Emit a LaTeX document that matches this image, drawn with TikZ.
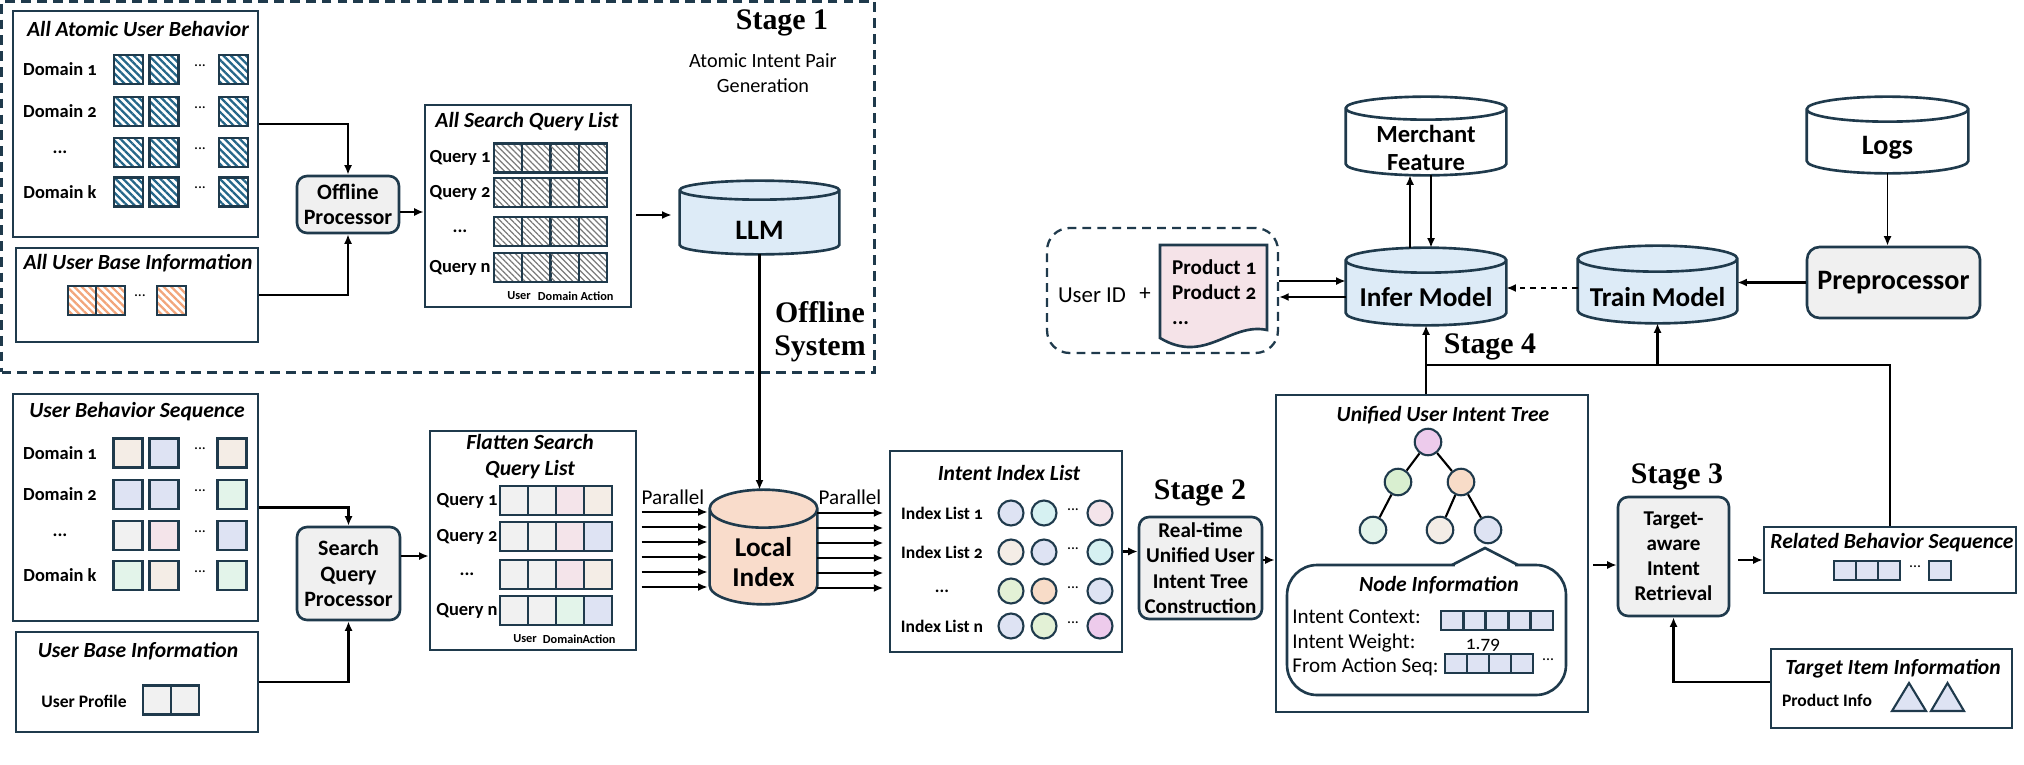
\documentclass[tikz,border=0pt]{standalone}
\usepackage{fontspec}
\setmainfont{Carlito}[Numbers=OldStyle]
\newfontfamily\stagefont{Liberation Serif}
\usetikzlibrary{arrows.meta,calc,patterns.meta}

\definecolor{boxline}{HTML}{1F3A4C}
\definecolor{hatchblue}{HTML}{246689}
\definecolor{hatchorange}{HTML}{F2A57A}
\definecolor{hatchgray}{HTML}{7A7A7A}
\definecolor{procfill}{HTML}{F0F0F0}
\definecolor{dbblue}{HTML}{DDEBF7}
\definecolor{dbpeach}{HTML}{F9DCCB}
\definecolor{beige}{HTML}{F4EDE6}
\definecolor{lav}{HTML}{DEE3F3}
\definecolor{mint}{HTML}{E3F4EA}
\definecolor{lgray}{HTML}{F1F1F1}
\definecolor{pinkish}{HTML}{F4E4EA}
\definecolor{cyanish}{HTML}{D6F1F2}
\definecolor{lime}{HTML}{E3F1D6}
\definecolor{peach}{HTML}{F8DCC8}
\definecolor{magentaish}{HTML}{EDCBEC}
\definecolor{greenish}{HTML}{D9EFD0}
\definecolor{docpink}{HTML}{F5E3E8}

\newcommand\etc{...}
% cylinder drawn round a named node: node, fill, half height of the ellipse
\newcommand\drum[3]{%
  \draw[line width=1.5pt, draw=boxline, fill=#2]
    let \p1=(#1.north west), \p2=(#1.south east), \n1={(\x2-\x1)/2} in
    (\x1,\y1-#3) -- (\x1,\y2+#3)
    arc[start angle=180, end angle=360, x radius=\n1, y radius=#3]
    -- (\x2,\y1-#3)
    arc[start angle=0, end angle=180, x radius=\n1, y radius=#3] -- cycle
    (\x1,\y1-#3) arc[start angle=180, end angle=360, x radius=\n1, y radius=#3];
}

\tikzset{
  >={Latex[length=0.19cm,width=0.16cm]},
  conn/.style={->, line width=1.4pt},
  thinconn/.style={->, line width=1pt},
  box/.style={draw=boxline, line width=1.5pt, inner sep=0pt},
  proc/.style={box, fill=procfill, rounded corners=0.2cm, align=center},
  titletext/.style={font=\fontsize{12.3}{14.7}\selectfont\bfseries\itshape, align=center},
  rowlab/.style={font=\fontsize{10.5}{12}\selectfont\bfseries},
  idxlab/.style={font=\fontsize{10}{12}\selectfont\bfseries},
  tinylab/.style={font=\fontsize{7}{8}\selectfont\bfseries},
  dotstext/.style={font=\fontsize{9}{10}\selectfont},
  infotext/.style={font=\fontsize{12}{14}\selectfont, inner sep=0pt},
  cell/.style={draw=boxline, line width=1.2pt, minimum width=0.58cm, minimum height=0.58cm, inner sep=0pt},
  bluecell/.style={cell, pattern={Lines[angle=-45,distance=3pt,line width=1.3pt]}, pattern color=hatchblue},
  orangecell/.style={cell, minimum width=0.57cm, pattern={Lines[angle=-45,distance=3pt,line width=1.3pt]}, pattern color=hatchorange},
  graycell/.style={cell, minimum width=0.565cm, pattern={Lines[angle=-45,distance=2.4pt,line width=0.7pt]}, pattern color=hatchgray},
  seqcell/.style={cell, fill=#1},
  qcell/.style={cell, minimum width=0.56cm, fill=#1},
  smallsq/.style={cell, minimum width=0.44cm, minimum height=0.38cm, fill=lav},
  ball/.style={circle, draw=boxline, line width=1.2pt, minimum size=0.5cm, inner sep=0pt, fill=#1},
  dbnode/.style={inner sep=0pt},
  dbtext/.style={font=\fontsize{15.5}{17}\selectfont\bfseries, align=center},
  stagetext/.style={font=\stagefont\fontsize{17}{19}\selectfont\bfseries, align=center},
}

\begin{document}
\begin{tikzpicture}[x=0.02cm, y=-0.02cm]
\useasboundingbox (0,0) rectangle (2024,764);

% Stage 1: offline system
\node[draw=boxline, line width=1.3pt, dash pattern=on 5.5pt off 3.5pt, minimum width=17.46cm, minimum height=7.42cm, inner sep=0pt] (offline) at (438,187) {};
\node[stagetext] (stage1) at (782,23) {Stage 1};
\node[font=\fontsize{11.5}{14.2}\selectfont, align=center] (pairgen) at (763,73.5) {Atomic Intent Pair\\Generation};
\node[stagetext] (offsys) at (820,332) {Offline\\System};

\node[box, minimum width=4.9cm, minimum height=4.52cm] (aub) at (135.5,124) {};
\node[titletext] (aubtitle) at (138,29) {All Atomic User Behavior};
\foreach \r/\y/\t in {1/69.5/Domain 1, 2/111.5/Domain 2, 3/152.5/\etc, 4/192/Domain k}{
  \node[rowlab] (aubl\r) at (60,\y) {\t};
  \node[bluecell] (aub\r-a) at (128.5,\y) {};
  \node[bluecell] (aub\r-b) at (164,\y) {};
  \node[dotstext] (aub\r-d) at (200,\y-4) {...};
  \node[bluecell] (aub\r-c) at (233.5,\y) {};
}

\node[box, minimum width=4.84cm, minimum height=1.88cm] (aubi) at (137,295) {};
\node[titletext] (aubititle) at (138,263) {All User Base Information};
\node[orangecell] (aubi1) at (82,300.5) {};
\node[orangecell] (aubi2) at (110.5,300.5) {};
\node[dotstext] (aubid) at (140,296) {...};
\node[orangecell] (aubi3) at (171.5,300.5) {};

\node[proc, minimum width=2.04cm, minimum height=1.14cm, font=\fontsize{12.5}{14.5}\selectfont\bfseries] (offp) at (348,204.5) {Offline\\Processor};

\node[box, minimum width=4.12cm, minimum height=4.04cm] (asql) at (528,206) {};
\node[titletext] (asqltitle) at (527,122) {All Search Query List};
\foreach \r/\y/\t in {1/158/Query 1, 2/192.5/Query 2, 3/231.5/\etc, 4/267.5/Query n}{
  \node[rowlab] (asqll\r) at (460,\y) {\t};
  \foreach \c/\x in {1/508, 2/536.5, 3/564.5, 4/593}
    \node[graycell] (asql\r-\c) at (\x,\y) {};
}
\node[tinylab] (asqlu) at (519,296) {User};
\node[tinylab] (asqld) at (558,296) {Domain};
\node[tinylab] (asqla) at (597,296) {Action};

\node[dbnode, minimum width=3.18cm, minimum height=1.46cm] (llm) at (759.5,217.5) {};
\drum{llm}{dbblue}{0.19cm}
\node[dbtext, font=\fontsize{16}{18}\selectfont\bfseries] (llmtext) at (759.5,230) {LLM};

\draw[conn] (aub.east) -| (offp.north);
\draw[conn] (aubi.east) -| (offp.south);
\draw[conn] ([yshift=-0.15cm]offp.east) -- ([yshift=-0.15cm]offp.east -| asql.west);
\draw[conn, shorten <=0.08cm, shorten >=0.16cm] ([yshift=-0.18cm]asql.east) -- ([yshift=-0.18cm]asql.east -| llm.west);

% online: user side
\node[box, minimum width=4.9cm, minimum height=4.54cm] (ubs) at (135.5,507.5) {};
\node[titletext] (ubstitle) at (137,412) {User Behavior Sequence};
\foreach \r/\y/\t/\ca/\cb/\cc in {1/453/Domain 1/beige/lav/beige, 2/494.5/Domain 2/lav/lav/mint, 3/535.5/\etc/lgray/pinkish/lav, 4/575.5/Domain k/mint/beige/mint}{
  \node[rowlab] (ubsl\r) at (60,\y) {\t};
  \node[seqcell=\ca] (ubs\r-a) at (128,\y) {};
  \node[seqcell=\cb] (ubs\r-b) at (164,\y) {};
  \node[dotstext] (ubs\r-d) at (200,\y-4) {...};
  \node[seqcell=\cc] (ubs\r-c) at (232,\y) {};
}

\node[box, minimum width=4.84cm, minimum height=2cm] (ubi) at (137,682) {};
\node[titletext] (ubititle) at (138,651) {User Base Information};
\node[idxlab] (uprof) at (84,701) {User Profile};
\node[qcell=lgray] (uprof1) at (157,700) {};
\node[qcell=lgray] (uprof2) at (185,700) {};

\node[proc, minimum width=2.06cm, minimum height=1.86cm, font=\fontsize{12.5}{14.7}\selectfont\bfseries] (sqp) at (348.5,573.5) {Search\\Query\\Processor};

\node[box, minimum width=4.12cm, minimum height=4.38cm] (fsql) at (533,540.5) {};
\node[titletext] (fsqltitle) at (530,457) {Flatten Search\\Query List};
\foreach \r/\y/\t/\ca/\cb in {1/500.5/Query 1/pinkish/beige, 2/536.5/Query 2/pinkish/lav, 3/574.5/\etc/pinkish/beige, 4/610.5/Query n/mint/lav}{
  \node[rowlab] (fsqll\r) at (467,\y) {\t};
  \node[qcell=lgray] (fsql\r-1) at (514,\y) {};
  \node[qcell=lgray] (fsql\r-2) at (542,\y) {};
  \node[qcell=\ca] (fsql\r-3) at (570,\y) {};
  \node[qcell=\cb] (fsql\r-4) at (598,\y) {};
}
\node[tinylab] (fsqlu) at (525,639) {User};
\node[tinylab] (fsqld) at (563,639) {Domain};
\node[tinylab] (fsqla) at (599,639) {Action};

\draw[conn] (ubs.east) -| (sqp.north);
\draw[conn] (ubi.east) -| (sqp.south);
\draw[conn] ([yshift=0.35cm]sqp.east) -- ([yshift=0.35cm]sqp.east -| fsql.west);

\node[dbnode, minimum width=2.14cm, minimum height=2.28cm] (lidx) at (763.5,547) {};
\drum{lidx}{dbpeach}{0.38cm}
\node[dbtext] (lidxtext) at (763.5,562) {Local\\Index};
\draw[conn] (llm.south) -- (llm.south |- lidx.north);

\node[font=\fontsize{12}{14}\selectfont] (parin) at (673,497) {Parallel};
\node[font=\fontsize{12}{14}\selectfont] (parout) at (850,497) {Parallel};
\foreach \k in {0,...,5}{
  \draw[conn] ($(lidx.west)+(-68,-35+15*\k)$) -- ($(lidx.west)+(-2,-35+15*\k)$);
  \draw[conn] ($(lidx.east)+(0,-34+15*\k)$) -- ($(lidx.east)+(66,-34+15*\k)$);
}

% Stage 2
\node[box, minimum width=4.64cm, minimum height=4.02cm] (iil) at (1006,551.5) {};
\node[titletext] (iiltitle) at (1009,473) {Intent Index List};
\foreach \r/\y/\t/\ca/\cb/\cc in {1/513/Index List 1/lav/cyanish/pinkish, 2/552/Index List 2/beige/lav/cyanish, 3/591/\etc/lime/peach/lav, 4/626/Index List n/lav/lime/magentaish}{
  \node[idxlab] (iill\r) at (942,\y) {\t};
  \node[ball=\ca] (iil\r-a) at (1011,\y) {};
  \node[ball=\cb] (iil\r-b) at (1044,\y) {};
  \node[dotstext] (iil\r-d) at (1073,\y-3) {...};
  \node[ball=\cc] (iil\r-c) at (1100,\y) {};
}

\node[stagetext] (stage2) at (1200,493) {Stage 2};
\node[proc, minimum width=2.46cm, minimum height=2.04cm, font=\fontsize{12}{14.5}\selectfont\bfseries] (rtc) at (1200.5,568) {Real-time\\Unified User\\Intent Tree\\Construction};
\draw[conn] (iil.east) -- (iil.east -| rtc.west);

\node[box, minimum width=6.24cm, minimum height=6.34cm] (uit) at (1432,553.5) {};
\node[titletext] (uittitle) at (1443,415) {Unified User Intent Tree};
\node[ball=magentaish, minimum size=0.53cm] (root) at (1428,442) {};
\node[ball=greenish, minimum size=0.53cm] (t21) at (1398,482) {};
\node[ball=peach, minimum size=0.53cm] (t22) at (1461,482) {};
\node[ball=mint, minimum size=0.53cm] (t31) at (1373,530) {};
\node[ball=beige, minimum size=0.53cm] (t32) at (1440,530) {};
\node[ball=lav, minimum size=0.53cm] (t33) at (1488,530) {};
\draw[line width=1.2pt] (root) -- (t21) (root) -- (t22) (t21) -- (t31) (t22) -- (t32) (t22) -- (t33);

\node[box, rounded corners=0.6cm, minimum width=5.58cm, minimum height=2.6cm] (nodeinfo) at (1426.5,630) {};
\draw[white, line width=2.2pt] (1455,565) -- (1515,565);
\draw[line width=1.5pt, draw=boxline] (1452,565) -- (1485,548) -- (1518,565);
\node[titletext] (nodeinfotitle) at (1439,585) {Node Information};
\node[infotext, anchor=west] (ictx) at (1292,617) {Intent Context:};
\node[infotext, anchor=west] (iwt) at (1292,643) {Intent Weight:};
\node[infotext, anchor=west] (iseq) at (1292,667) {From Action Seq:};
\foreach \k/\x in {1/1452, 2/1474.5, 3/1497, 4/1519.5, 5/1542}
  \node[smallsq] (ctx\k) at (\x,620.5) {};
\node[font=\fontsize{11}{13}\selectfont] (wval) at (1483,645) {1.79};
\foreach \k/\x in {1/1456, 2/1478, 3/1500, 4/1522}
  \node[smallsq] (seq\k) at (\x,663.5) {};
\node[dotstext] (seqd) at (1548,660) {...};

\draw[conn] ([yshift=0.16cm]rtc.east) -- ([yshift=0.16cm]rtc.east -| uit.west);

% Stage 3
\node[stagetext] (stage3) at (1677,477) {Stage 3};
\node[proc, minimum width=2.22cm, minimum height=2.38cm, font=\fontsize{12}{14.2}\selectfont\bfseries] (tair) at (1673.5,556.5) {Target-\\aware\\Intent\\Retrieval};

\node[box, minimum width=5.04cm, minimum height=1.32cm] (rbs) at (1890,560) {};
\node[titletext] (rbstitle) at (1892,543) {Related Behavior Sequence};
\foreach \k/\x in {1/1845, 2/1867, 3/1889, 4/1940}
  \node[smallsq] (rbs\k) at (\x,570.5) {};
\node[dotstext] (rbsd) at (1915,567) {...};

\node[box, minimum width=4.82cm, minimum height=1.58cm] (tii) at (1891.5,688.5) {};
\node[titletext] (tiititle) at (1893,669) {Target Item Information};
\node[idxlab] (pinfo) at (1827,700) {Product Info};
\draw[line width=1.2pt, draw=boxline, fill=lav] (1892,711) -- (1926,711) -- (1909,683) -- cycle;
\draw[line width=1.2pt, draw=boxline, fill=lav] (1931,711) -- (1964,711) -- (1947.5,683) -- cycle;

\draw[conn, shorten <=0.08cm] ([yshift=-0.23cm]uit.east) -- ([yshift=-0.23cm]uit.east -| tair.west);
\draw[conn, shorten <=0.16cm] (tair.east |- rbs.west) -- (rbs.west);
\draw[conn] ([yshift=0.13cm]tii.west) -| (tair.south);

% Stage 4: serving
\node[dbnode, minimum width=3.2cm, minimum height=1.56cm] (merchant) at (1426,136) {};
\drum{merchant}{white}{0.23cm}
\node[dbtext, font=\fontsize{14}{15.5}\selectfont\bfseries] (merchanttext) at (1426,148) {Merchant\\Feature};

\node[dbnode, minimum width=3.22cm, minimum height=1.52cm] (logs) at (1887.5,135) {};
\drum{logs}{white}{0.25cm}
\node[dbtext, font=\fontsize{16}{18}\selectfont\bfseries] (logstext) at (1887.5,148) {Logs};

\node[dbnode, minimum width=3.2cm, minimum height=1.54cm] (infer) at (1426,286.5) {};
\drum{infer}{dbblue}{0.25cm}
\node[dbtext] (infertext) at (1426,297) {Infer Model};

\node[dbnode, minimum width=3.18cm, minimum height=1.54cm] (train) at (1657.5,284.5) {};
\drum{train}{dbblue}{0.26cm}
\node[dbtext] (traintext) at (1657.5,297) {Train Model};

\node[proc, rounded corners=0.25cm, minimum width=3.46cm, minimum height=1.42cm, font=\fontsize{16}{18}\selectfont\bfseries] (prep) at (1893.5,282.5) {Preprocessor};

\node[draw=boxline, line width=1.3pt, dash pattern=on 5pt off 3.5pt, rounded corners=0.45cm, minimum width=4.62cm, minimum height=2.5cm] (ubox) at (1162.5,290.5) {};
\node[font=\fontsize{13}{15}\selectfont] (uid) at (1092,295) {User ID};
\node[font=\fontsize{13}{15}\selectfont] (uplus) at (1145,294) {+};
\draw[line width=1.5pt, draw=boxline, fill=docpink] (1160,245) -- (1267,245) -- (1267,330) .. controls (1230,322) and (1205,365) .. (1160,338) -- cycle;
\node[font=\fontsize{12}{14.2}\selectfont\bfseries, align=left, anchor=west] (prods) at (1166,292) {Product 1\\Product 2\\...};

\node[stagetext] (stage4) at (1490,347) {Stage 4};

\draw[thinconn] ([xshift=-0.32cm]infer.north) -- ([xshift=-0.32cm]infer.north |- merchant.south);
\draw[thinconn] ([xshift=0.1cm]merchant.south) -- ([xshift=0.1cm]merchant.south |- infer.north);
\draw[thinconn] (logs.south) -- (logs.south |- prep.north);
\draw[conn] (prep.west) -- (prep.west -| train.east);
\draw[conn, dashed] ([yshift=-0.07cm]train.west) -- ([yshift=-0.07cm]train.west -| infer.east);
\draw[conn] ([yshift=0.19cm]ubox.east) -- ([yshift=0.19cm]ubox.east -| infer.west);
\draw[conn] ([yshift=-0.13cm]ubox.east -| infer.west) -- ([yshift=-0.13cm]ubox.east);

\coordinate (s4) at (1426,365);
\draw[line width=1.4pt] (rbs.north) |- (s4);
\draw[conn] (uit.north -| infer.south) -- (infer.south);
\draw[conn] (s4 -| train.south) -- (train.south);
\end{tikzpicture}
\end{document}
